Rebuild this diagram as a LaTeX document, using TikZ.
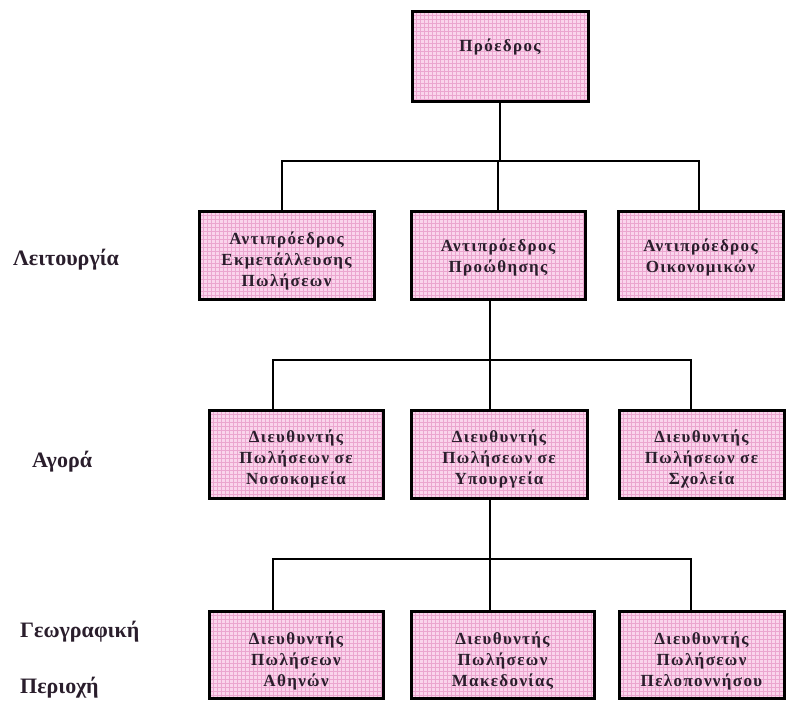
\documentclass[tikz,border=0pt]{standalone}
\usepackage{fontspec}
\setmainfont{Liberation Serif}
\newfontfamily\boxfont[LetterSpace=8]{Liberation Serif}
\definecolor{boxpink}{HTML}{FAD5EC}
\definecolor{gridpink}{HTML}{EBA6CF}
\definecolor{ink}{HTML}{2A1E2C}

\tikzset{
  orgbox/.style 2 args={draw=black, line width=3pt, fill=boxpink,
    minimum width=#1, minimum height=#2, inner sep=0pt,
    path picture={
      \foreach \g in {0,4,...,200} {
        \draw[gridpink, line width=0.3pt]
          ([xshift=\g pt]path picture bounding box.north west) --
          ([xshift=\g pt]path picture bounding box.south west);
        \draw[gridpink, line width=0.3pt]
          ([yshift=-\g pt]path picture bounding box.north west) --
          ([yshift=-\g pt]path picture bounding box.north east);
      }
    }},
  boxtext/.style={align=center, text=ink, inner sep=0pt,
    font=\boxfont\bfseries\fontsize{17}{21}\selectfont},
  sidetext/.style={anchor=west, text=ink, inner sep=0pt,
    font=\bfseries\fontsize{22}{24}\selectfont},
  wire/.style={draw=black, line width=2.5pt}
}

\begin{document}
\begin{tikzpicture}[x=1pt, y=-1pt]
\useasboundingbox (0,0) rectangle (787,713);

% top level
\node[orgbox={176pt}{90pt}] (pres) at (500,56) {};
\node[boxtext] (tpres) at ([yshift=9pt]pres.center) {Πρόεδρος};

% vice presidents (function)
\node[orgbox={175pt}{88pt}] (v1) at (286.5,255) {};
\node[orgbox={174pt}{88pt}] (v2) at (498,255) {};
\node[orgbox={165pt}{88pt}] (v3) at (700.5,255) {};
\node[boxtext] (tv1) at ([yshift=-6pt]v1.center) {Αντιπρόεδρος\\Εκμετάλλευσης\\Πωλήσεων};
\node[boxtext] (tv2) at ([yshift=-2pt]v2.center) {Αντιπρόεδρος\\Προώθησης};
\node[boxtext] (tv3) at ([yshift=-2pt]v3.center) {Αντιπρόεδρος\\Οικονομικών};

% market managers
\node[orgbox={174pt}{88pt}] (m1) at (296,454) {};
\node[orgbox={176pt}{88pt}] (m2) at (499,454) {};
\node[orgbox={165pt}{88pt}] (m3) at (701.5,454) {};
\node[boxtext] (tm1) at ([yshift=-5pt]m1.center) {Διευθυντής\\Πωλήσεων σε\\Νοσοκομεία};
\node[boxtext] (tm2) at ([yshift=-5pt]m2.center) {Διευθυντής\\Πωλήσεων σε\\Υπουργεία};
\node[boxtext] (tm3) at ([yshift=-5pt]m3.center) {Διευθυντής\\Πωλήσεων σε\\Σχολεία};

% regional managers
\node[orgbox={174pt}{87pt}] (g1) at (296,654.5) {};
\node[orgbox={183pt}{87pt}] (g2) at (502.5,654.5) {};
\node[orgbox={165pt}{87pt}] (g3) at (701.5,654.5) {};
\node[boxtext] (tg1) at ([yshift=-6pt]g1.center) {Διευθυντής\\Πωλήσεων\\Αθηνών};
\node[boxtext] (tg2) at ([yshift=-6pt]g2.center) {Διευθυντής\\Πωλήσεων\\Μακεδονίας};
\node[boxtext] (tg3) at ([yshift=-6pt]g3.center) {Διευθυντής\\Πωλήσεων\\Πελοποννήσου};

% level captions
\node[sidetext] (l1) at (13,260) {Λειτουργία};
\node[sidetext] (l2) at (32,462) {Αγορά};
\node[sidetext] (l3) at (20,632) {Γεωγραφική};
\node[sidetext] (l4) at (20,688) {Περιοχή};

% connectors: president to vice presidents
\coordinate (busA) at (282,161);
\coordinate (busAr) at (699,161);
\draw[wire] (pres.south) -- (pres.south |- busA);
\draw[wire] (v1.north -| busA) -- (busA) -- (busAr) -- (v3.north -| busAr);
\draw[wire] (v2.north) -- (v2.north |- busA);

% connectors: promotion VP to market managers
\coordinate (busB) at (273,360);
\coordinate (busBm) at (490,360);
\coordinate (busBr) at (691,360);
\draw[wire] (v2.south -| busBm) -- (busBm);
\draw[wire] (m1.north -| busB) -- (busB) -- (busBr) -- (m3.north -| busBr);
\draw[wire] (m2.north -| busBm) -- (busBm);

% connectors: ministries manager to regional managers
\coordinate (busC) at (273,559);
\coordinate (busCm) at (490,559);
\coordinate (busCr) at (691,559);
\draw[wire] (m2.south -| busCm) -- (busCm);
\draw[wire] (g1.north -| busC) -- (busC) -- (busCr) -- (g3.north -| busCr);
\draw[wire] (g2.north -| busCm) -- (busCm);
\end{tikzpicture}
\end{document}
